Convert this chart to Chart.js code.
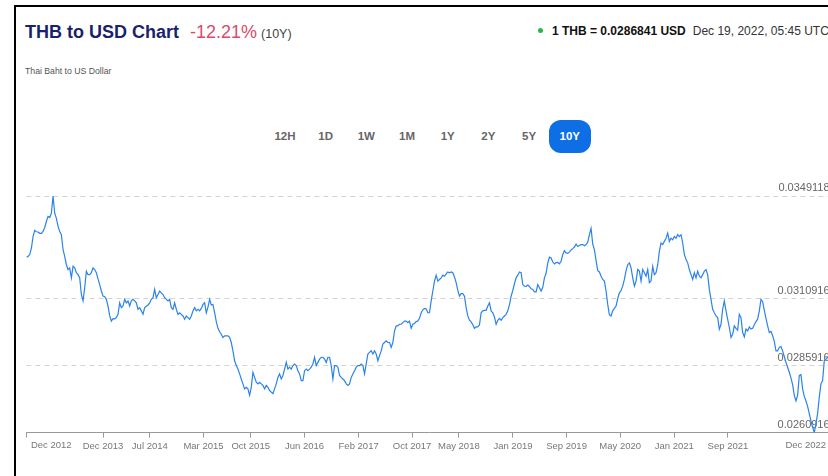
<!DOCTYPE html>
<html>
<head>
<meta charset="utf-8">
<title>THB to USD Chart</title>
<script src="https://cdn.jsdelivr.net/npm/chart.js@4.4.0/dist/chart.umd.min.js"></script>
<style>
  html, body { margin: 0; padding: 0; background: #fff; width: 828px; height: 476px; overflow: hidden; }
  body { position: relative; font-family: 'Liberation Sans', Arial, sans-serif; }
  .frame { position: absolute; left: 14px; top: 5px; width: 900px; height: 600px; border-left: 2px solid #000; border-top: 2px solid #000; }
  .title { position: absolute; left: 25px; top: 23px; line-height: 18px; white-space: nowrap; }
  .title b { font-size: 18px; color: #1a1f6e; }
  .title .pct { font-size: 18px; color: #dc4a6b; margin-left: 11px; }
  .title .period { font-size: 12.5px; color: #444; margin-left: 4px; }
  .sub { position: absolute; left: 25px; top: 66px; font-size: 8.7px; color: #555; white-space: nowrap; }
  .rate { position: absolute; left: 538px; top: 24px; line-height: 14px; font-size: 12px; white-space: nowrap; color: #333; }
  .rate .dot { display: inline-block; width: 5px; height: 5px; border-radius: 50%; background: #2fb44a; margin-right: 9px; vertical-align: 2px; }
  .rate b { color: #111; margin-right: 7px; }
  .ranges { position: absolute; left: 264.6px; top: 120px; display: flex; }
  .ranges span { width: 40.7px; height: 33px; line-height: 33px; text-align: center; font-weight: bold; font-size: 11.5px; color: #666; }
  .ranges span.active { background: #0e6ee6; color: #fff; border-radius: 12px; width: 42px; margin-left: -0.6px; }
  #wrap { position: absolute; left: 0; top: 170px; width: 840px; height: 306px; }
</style>
</head>
<body>
<div class="frame"></div>
<div class="title"><b>THB to USD Chart</b><span class="pct">-12.21%</span><span class="period">(10Y)</span></div>
<div class="sub">Thai Baht to US Dollar</div>
<div class="rate"><span class="dot"></span><b>1 THB = 0.0286841 USD</b>Dec 19, 2022, 05:45 UTC</div>
<div class="ranges" id="ranges"></div>
<div id="wrap"><canvas id="chart" width="840" height="306"></canvas></div>
<script>
const ranges = ['12H', '1D', '1W', '1M', '1Y', '2Y', '5Y', '10Y'];
const activeRange = '10Y';

const startDate = '2012-12-19';
const endDate = '2022-12-19';
const edgeLabels = ['Dec 2012', 'Dec 2022'];

const tickDates = ['2013-12-01', '2014-07-01', '2015-03-01', '2015-10-01', '2016-06-01', '2017-02-01',
  '2017-10-01', '2018-05-01', '2019-01-01', '2019-09-01', '2020-05-01', '2021-01-01', '2021-09-01'];
const tickLabels = ['Dec 2013', 'Jul 2014', 'Mar 2015', 'Oct 2015', 'Jun 2016', 'Feb 2017',
  'Oct 2017', 'May 2018', 'Jan 2019', 'Sep 2019', 'May 2020', 'Jan 2021', 'Sep 2021'];

const yTicks = [0.0260916, 0.0285916, 0.0310916, 0.0349118];

// THB -> USD, sampled about weekly from Dec 19, 2012 to Dec 19, 2022
const rates = [
  0.03263,
  0.03266, 0.03273, 0.03297, 0.03340, 0.03363, 0.03358, 0.03357, 0.03352, 0.03352, 0.03359,
  0.03374, 0.03396, 0.03415, 0.03411, 0.03427, 0.0349118, 0.03427, 0.03408, 0.03378, 0.03359,
  0.03347, 0.03291, 0.03266, 0.03235, 0.03217, 0.03223, 0.03186, 0.03229, 0.03223, 0.03205,
  0.03198, 0.03186, 0.03124, 0.03100, 0.03149, 0.03211, 0.03198, 0.03198, 0.03205, 0.03223,
  0.03217, 0.03205, 0.03182, 0.03161, 0.03137, 0.03118, 0.03116, 0.03106, 0.03081, 0.03044,
  0.03025, 0.03034, 0.03033, 0.03038, 0.03050, 0.03093, 0.03075, 0.03081, 0.03106, 0.03093,
  0.03100, 0.03081, 0.03100, 0.03106, 0.03100, 0.03093, 0.03069, 0.03075, 0.03063, 0.03050,
  0.03075, 0.03080, 0.03085, 0.03093, 0.03106, 0.03112, 0.03143, 0.03112, 0.03124, 0.03137,
  0.03130, 0.03124, 0.03112, 0.03106, 0.03100, 0.03106, 0.03075, 0.03069, 0.03093, 0.03069,
  0.03050, 0.03056, 0.03050, 0.03044, 0.03032, 0.03044, 0.03038, 0.03032, 0.03044, 0.03063,
  0.03075, 0.03063, 0.03069, 0.03063, 0.03072, 0.03087, 0.03093, 0.03056, 0.03077, 0.03106,
  0.03085, 0.03087, 0.03056, 0.03023, 0.02998, 0.02985, 0.02976, 0.02964,
  0.02970, 0.02970, 0.02970, 0.02964, 0.02945, 0.02914, 0.02877, 0.02859, 0.02846, 0.02828,
  0.02809, 0.02791, 0.02772, 0.02778, 0.02772, 0.02748, 0.02778, 0.02834, 0.02815, 0.02797,
  0.02791, 0.02797, 0.02791, 0.02785, 0.02772, 0.02785, 0.02778, 0.02766, 0.02760, 0.02754,
  0.02772, 0.02791, 0.02815, 0.02828, 0.02809, 0.02822, 0.02846, 0.02871, 0.02846, 0.02853,
  0.02846, 0.02859, 0.02865, 0.02859, 0.02840, 0.02828, 0.02803, 0.02803, 0.02840, 0.02846,
  0.02840, 0.02846, 0.02853, 0.02865, 0.02890, 0.02859, 0.02871, 0.02883, 0.02890, 0.02890,
  0.02883, 0.02871, 0.02890, 0.02890, 0.02859, 0.02809, 0.02859, 0.02859, 0.02853, 0.02822,
  0.02815, 0.02809, 0.02803, 0.02791, 0.02785, 0.02791, 0.02815, 0.02828, 0.02840, 0.02853,
  0.02859, 0.02859, 0.02865, 0.02859, 0.02828, 0.02865, 0.02902, 0.02908, 0.02914, 0.02902,
  0.02914, 0.02902, 0.02877, 0.02896, 0.02914, 0.02939, 0.02945, 0.02951, 0.02945, 0.02945,
  0.02927, 0.02945, 0.02988, 0.03007, 0.03007, 0.03013, 0.03013, 0.03019, 0.03025, 0.03025,
  0.03019, 0.03025, 0.02998, 0.03013, 0.03016, 0.03023, 0.03025, 0.03035, 0.03056, 0.03067,
  0.03072, 0.03070, 0.03056,
  0.03056, 0.03100, 0.03137, 0.03174, 0.03196, 0.03174, 0.03180, 0.03186, 0.03196, 0.03192,
  0.03201, 0.03208, 0.03205, 0.03208, 0.03205, 0.03189, 0.03168, 0.03139, 0.03118, 0.03127,
  0.03127, 0.03118, 0.03075, 0.03044, 0.03028, 0.03022, 0.03011, 0.02998, 0.03003, 0.03003,
  0.03011, 0.03056, 0.03063, 0.03065, 0.03065, 0.03081, 0.03093, 0.03063, 0.03056, 0.03040,
  0.03013, 0.03028, 0.03035, 0.03028, 0.03038, 0.03044, 0.03050, 0.03063, 0.03085, 0.03118,
  0.03139, 0.03164, 0.03186, 0.03196, 0.03208, 0.03205, 0.03161, 0.03155, 0.03154, 0.03159,
  0.03154, 0.03145, 0.03143, 0.03134, 0.03134, 0.03161, 0.03149, 0.03137, 0.03151, 0.03186,
  0.03203, 0.03242, 0.03263, 0.03260, 0.03245, 0.03238, 0.03243, 0.03244, 0.03238, 0.03248,
  0.03273, 0.03287, 0.03279, 0.03277, 0.03282, 0.03290, 0.03295, 0.03301, 0.03312, 0.03303,
  0.03307, 0.03310, 0.03310, 0.03306, 0.03310, 0.03319, 0.03347, 0.03371, 0.03312, 0.03291,
  0.03250, 0.03213, 0.03208, 0.03192, 0.03180, 0.03174, 0.03137, 0.03087, 0.03048, 0.03044,
  0.03063, 0.03072, 0.03081, 0.03109, 0.03130, 0.03139, 0.03155, 0.03180, 0.03213, 0.03235,
  0.03242, 0.03223, 0.03186, 0.03155, 0.03174, 0.03217, 0.03211, 0.03174, 0.03217, 0.03205,
  0.03192, 0.03217, 0.03168, 0.03174, 0.03229, 0.03198, 0.03205, 0.03235, 0.03285, 0.03316,
  0.03310, 0.03322, 0.03334, 0.03353, 0.03322, 0.03334, 0.03328, 0.03340, 0.03334, 0.03347,
  0.03340, 0.03347, 0.03316, 0.03273, 0.03254, 0.03242, 0.03217, 0.03198, 0.03180, 0.03205,
  0.03186, 0.03211, 0.03192, 0.03186, 0.03198, 0.03211, 0.03217, 0.03198, 0.03143, 0.03106,
  0.03069, 0.03056, 0.03044, 0.03038, 0.02995, 0.03013, 0.03069, 0.03100, 0.03063, 0.03032,
  0.03001, 0.02964, 0.02976, 0.03007, 0.02998, 0.02991, 0.03050, 0.03038, 0.02982, 0.02966,
  0.02995, 0.02988, 0.03003, 0.02995, 0.02998, 0.03011, 0.03023, 0.03032, 0.03063, 0.03106,
  0.03097, 0.03065, 0.03035, 0.03007, 0.02982, 0.02986, 0.02970, 0.02949, 0.02914, 0.02914,
  0.02927, 0.02930, 0.02914, 0.02892, 0.02871, 0.02853, 0.02834, 0.02813, 0.02788, 0.02748,
  0.02727, 0.02748, 0.02822, 0.02825, 0.02772, 0.02744, 0.02727, 0.02707, 0.02680, 0.02652,
  0.02630, 0.0260916, 0.02643, 0.02680, 0.02741, 0.02791, 0.02803, 0.02877, 0.02883,
  0.02890, 0.02885, 0.02880, 0.0286841
];

// --- range buttons ---
const rangesBox = document.getElementById('ranges');
ranges.forEach(r => {
  const el = document.createElement('span');
  el.textContent = r;
  if (r === activeRange) el.className = 'active';
  rangesBox.appendChild(el);
});

// --- chart ---
const startMs = Date.parse(startDate);
const endMs = Date.parse(endDate);
const stepMs = (endMs - startMs) / (rates.length - 1);
const points = rates.map((r, i) => ({ x: startMs + i * stepMs, y: r }));
const tickMs = tickDates.map(d => Date.parse(d));

const axisFont = "'Liberation Sans', Arial, sans-serif";
const dateFontSize = 9.5;

// first / last date sit flush with the ends of the axis
const edgeLabelsPlugin = {
  id: 'edgeLabels',
  afterDraw(chart) {
    const { ctx, scales: { x } } = chart;
    ctx.save();
    ctx.font = dateFontSize + 'px ' + axisFont;
    ctx.fillStyle = '#777';
    ctx.textBaseline = 'middle';
    const y = x.top + 13;
    ctx.textAlign = 'left';
    ctx.fillText(edgeLabels[0], x.left + 4.5, y);
    ctx.textAlign = 'right';
    ctx.fillText(edgeLabels[1], x.right - 6.5, y);
    ctx.restore();
  }
};

new Chart(document.getElementById('chart').getContext('2d'), {
  type: 'line',
  data: {
    datasets: [{
      data: points,
      borderColor: '#2a83ea',
      borderWidth: 1.2,
      pointRadius: 0,
      tension: 0,
      fill: false
    }]
  },
  options: {
    responsive: false,
    animation: false,
    layout: { padding: { left: 26.4, right: 7.4, top: 26, bottom: 21 } },
    plugins: { legend: { display: false }, tooltip: { enabled: false } },
    scales: {
      x: {
        type: 'linear',
        min: startMs,
        max: endMs,
        afterBuildTicks: scale => {
          scale.ticks = [startMs, ...tickMs].map(v => ({ value: v }));
        },
        ticks: {
          autoSkip: false,
          maxRotation: 0,
          padding: 3,
          color: '#777',
          font: { family: axisFont, size: dateFontSize },
          callback: (v, i) => i === 0 ? '' : tickLabels[i - 1]
        },
        grid: { drawOnChartArea: false, drawTicks: true, tickLength: 5, color: '#999' },
        border: { display: true, color: '#999', width: 1 }
      },
      y: {
        position: 'right',
        min: yTicks[0],
        max: yTicks[yTicks.length - 1],
        afterBuildTicks: scale => {
          scale.ticks = yTicks.map(v => ({ value: v }));
        },
        ticks: {
          mirror: true,
          padding: -3,
          labelOffset: -8,
          color: '#666',
          font: { family: axisFont, size: 11 },
          callback: v => v.toFixed(7)
        },
        grid: { color: '#d3d3d3', drawTicks: false, lineWidth: 1 },
        border: { display: false, dash: [5, 4] }
      }
    }
  },
  plugins: [edgeLabelsPlugin]
});
</script>
</body>
</html>
